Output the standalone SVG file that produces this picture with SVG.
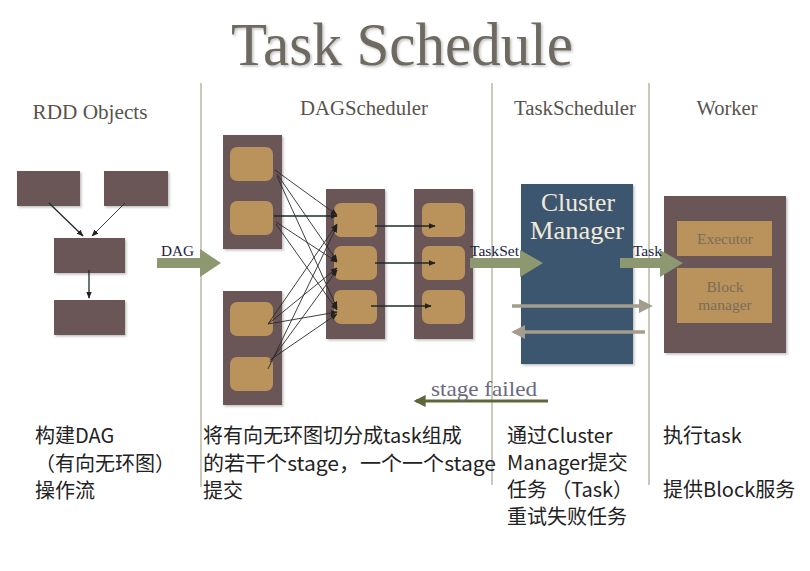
<svg xmlns="http://www.w3.org/2000/svg" width="810" height="571" viewBox="0 0 810 571">
<defs>
<style>
.serif{font-family:"Liberation Serif","DejaVu Serif",serif}
.cjk{font-family:"Noto Sans CJK SC","Noto Sans",sans-serif;font-size:20px;fill:#222}
.hdr{font-size:20px;fill:#58534d}
.vline{stroke:#aaa592;stroke-width:1.2}
.rdd{fill:#6a5657}
.stage{fill:#6a5657}
.task{fill:#b9935b}
.green{fill:#8e9870}
.thin{stroke:#2a2a2a;stroke-width:0.9;fill:none}
.thin2{stroke:#1f2a2a;stroke-width:1.3;fill:none}
.gray{stroke:#a39d8e;stroke-width:3.5;fill:none}
.lbl{font-size:15px;fill:#1a2240}
</style>
<marker id="ah" viewBox="0 0 10 10" refX="9" refY="5" markerWidth="7" markerHeight="7" markerUnits="userSpaceOnUse" orient="auto">
<path d="M0,1 L10,5 L0,9 z" fill="#222"/>
</marker>
<marker id="ahg" viewBox="0 0 10 10" refX="8" refY="5" markerWidth="4" markerHeight="4" orient="auto">
<path d="M0,0 L10,5 L0,10 z" fill="#a39d8e"/>
</marker>
<marker id="aho" viewBox="0 0 10 10" refX="8" refY="5" markerWidth="4" markerHeight="4" orient="auto">
<path d="M0,0 L10,5 L0,10 z" fill="#5f6638"/>
</marker>
<filter id="sh" x="-10%" y="-10%" width="130%" height="130%">
<feDropShadow dx="1.5" dy="1.5" stdDeviation="1.2" flood-color="#000" flood-opacity="0.25"/>
</filter>
</defs>
<rect width="810" height="571" fill="#fff"/>

<g id="title">
<text x="402" y="65" text-anchor="middle" class="serif" font-size="62" textLength="342" lengthAdjust="spacingAndGlyphs" fill="#6e6a62" filter="url(#sh)">Task Schedule</text>
</g>

<g id="headers" class="serif">
<text x="90" y="119" text-anchor="middle" class="hdr serif" textLength="115" lengthAdjust="spacingAndGlyphs">RDD Objects</text>
<text x="364" y="115" text-anchor="middle" class="hdr serif" textLength="128" lengthAdjust="spacingAndGlyphs">DAGScheduler</text>
<text x="575" y="115" text-anchor="middle" class="hdr serif" textLength="122" lengthAdjust="spacingAndGlyphs">TaskScheduler</text>
<text x="727" y="115" text-anchor="middle" class="hdr serif" textLength="61" lengthAdjust="spacingAndGlyphs">Worker</text>
</g>

<g id="dividers">
<line class="vline" x1="201" y1="83" x2="201" y2="487"/>
<line class="vline" x1="492" y1="83" x2="492" y2="485"/>
<line class="vline" x1="649" y1="83" x2="649" y2="485"/>
</g>

<g id="rdd-objects" filter="url(#sh)">
<rect class="rdd" x="17" y="171" width="63" height="35"/>
<rect class="rdd" x="104" y="171" width="64" height="35"/>
<rect class="rdd" x="54" y="238" width="71" height="35"/>
<rect class="rdd" x="54" y="300" width="71" height="35"/>
</g>

<g id="stage-a">
<rect class="stage" x="223" y="135" width="59" height="114" filter="url(#sh)"/>
<rect class="task" x="230" y="147" width="43" height="34" rx="7"/>
<rect class="task" x="230" y="201" width="43" height="34" rx="7"/>
</g>
<g id="stage-b">
<rect class="stage" x="223" y="291" width="59" height="114" filter="url(#sh)"/>
<rect class="task" x="230" y="302" width="43" height="34" rx="7"/>
<rect class="task" x="230" y="357" width="43" height="34" rx="7"/>
</g>
<g id="stage-c">
<rect class="stage" x="326" y="189" width="59" height="150" filter="url(#sh)"/>
<rect class="task" x="334" y="203" width="43" height="34" rx="7"/>
<rect class="task" x="334" y="246" width="43" height="34" rx="7"/>
<rect class="task" x="334" y="290" width="43" height="34" rx="7"/>
</g>
<g id="stage-d">
<rect class="stage" x="414" y="189" width="59" height="150" filter="url(#sh)"/>
<rect class="task" x="422" y="203" width="43" height="34" rx="7"/>
<rect class="task" x="422" y="246" width="43" height="34" rx="7"/>
<rect class="task" x="422" y="290" width="43" height="34" rx="7"/>
</g>

<g id="cluster-manager">
<rect x="521" y="184" width="112" height="180" fill="#3e5670" filter="url(#sh)"/>
<text x="578" y="211" text-anchor="middle" class="serif" font-size="25" fill="#f2ead8" textLength="74" lengthAdjust="spacingAndGlyphs">Cluster</text>
<text x="577" y="239" text-anchor="middle" class="serif" font-size="25" fill="#f2ead8" textLength="94" lengthAdjust="spacingAndGlyphs">Manager</text>
</g>

<g id="worker">
<rect x="664" y="196" width="122" height="157" fill="#6a5657" filter="url(#sh)"/>
<rect x="677" y="221" width="95" height="35" fill="#b9935b"/>
<rect x="677" y="268" width="95" height="55" fill="#b9935b"/>
<text x="725" y="244" text-anchor="middle" class="serif" font-size="15.5" fill="#7b6d58">Executor</text>
<text x="725" y="292" text-anchor="middle" class="serif" font-size="15.5" fill="#7b6d58">Block</text>
<text x="725" y="310" text-anchor="middle" class="serif" font-size="15.5" fill="#7b6d58">manager</text>
</g>

<g id="connectors">
<line class="thin2" x1="49" y1="203" x2="83" y2="236" marker-end="url(#ah)"/>
<line class="thin" x1="125" y1="203" x2="92" y2="236" marker-end="url(#ah)"/>
<line class="thin2" x1="89" y1="270" x2="89" y2="298" marker-end="url(#ah)"/>

<polygon class="green" points="157,258 200,258 200,249 221,263 200,277 200,268 157,268"/>
<text x="161" y="256" class="lbl serif" textLength="33" lengthAdjust="spacingAndGlyphs">DAG</text>

<line class="thin" x1="275" y1="170" x2="337" y2="215" marker-end="url(#ah)"/>
<line class="thin" x1="277" y1="174" x2="337" y2="261" marker-end="url(#ah)"/>
<line class="thin" x1="277" y1="176" x2="337" y2="308" marker-end="url(#ah)"/>
<line class="thin2" x1="274" y1="216" x2="337" y2="216" marker-end="url(#ah)"/>
<line class="thin" x1="276" y1="222" x2="337" y2="262" marker-end="url(#ah)"/>
<line class="thin" x1="276" y1="224" x2="337" y2="310" marker-end="url(#ah)"/>
<line class="thin" x1="268" y1="324" x2="337" y2="224" marker-end="url(#ah)"/>
<line class="thin" x1="268" y1="324" x2="337" y2="268" marker-end="url(#ah)"/>
<line class="thin" x1="268" y1="324" x2="337" y2="312" marker-end="url(#ah)"/>
<line class="thin" x1="268" y1="369" x2="337" y2="226" marker-end="url(#ah)"/>
<line class="thin" x1="270" y1="362" x2="337" y2="270" marker-end="url(#ah)"/>
<line class="thin" x1="270" y1="360" x2="337" y2="314" marker-end="url(#ah)"/>

<line class="thin2" x1="375" y1="226" x2="435" y2="226" marker-end="url(#ah)"/>
<line class="thin2" x1="375" y1="263" x2="435" y2="263" marker-end="url(#ah)"/>
<line class="thin2" x1="371" y1="306" x2="431" y2="306" marker-end="url(#ah)"/>

<polygon class="green" points="470,258 520,258 520,250 543,263 520,277 520,268 470,268"/>
<text x="470" y="256" class="lbl serif" textLength="49" lengthAdjust="spacingAndGlyphs">TaskSet</text>

<polygon class="green" points="620,258 660,258 660,250 683,263 660,277 660,268 620,268"/>
<text x="633" y="256" class="lbl serif" textLength="29" lengthAdjust="spacingAndGlyphs">Task</text>

<line class="gray" x1="512" y1="306" x2="650" y2="306" marker-end="url(#ahg)"/>
<line class="gray" x1="645" y1="332" x2="514" y2="332" marker-end="url(#ahg)"/>

<line x1="548" y1="401" x2="416" y2="401" stroke="#5f6638" stroke-width="3" marker-end="url(#aho)"/>
<text x="431" y="396" class="serif" font-size="22" fill="#686a80" textLength="106" lengthAdjust="spacingAndGlyphs">stage failed</text>
</g>

<g id="descriptions" class="cjk">
<text x="35" y="443">构建DAG</text>
<text x="35" y="471">（有向无环图）</text>
<text x="35" y="498">操作流</text>
<text x="203" y="443">将有向无环图切分成task组成</text>
<text x="203" y="471" textLength="293" lengthAdjust="spacingAndGlyphs">的若干个stage，一个一个stage</text>
<text x="203" y="498">提交</text>
<text x="507" y="443">通过Cluster</text>
<text x="507" y="470">Manager提交</text>
<text x="507" y="497" textLength="126" lengthAdjust="spacing">任务 （Task）</text>
<text x="507" y="524">重试失败任务</text>
<text x="663" y="443">执行task</text>
<text x="663" y="497">提供Block服务</text>
</g>
</svg>
